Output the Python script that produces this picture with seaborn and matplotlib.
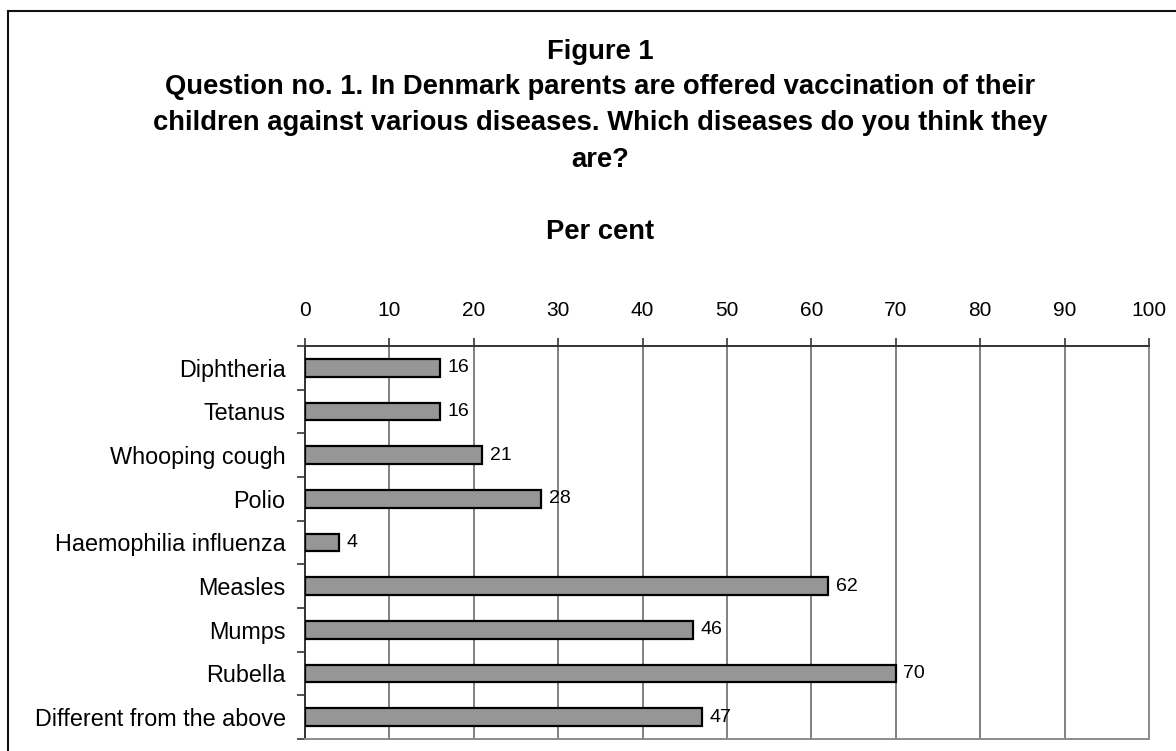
import matplotlib
matplotlib.use("Agg")
import matplotlib.pyplot as plt
from matplotlib.patches import Rectangle
from matplotlib.ticker import FixedLocator
import seaborn as sns
import pandas as pd

diseases = [
    "Diphtheria",
    "Tetanus",
    "Whooping cough",
    "Polio",
    "Haemophilia influenza",
    "Measles",
    "Mumps",
    "Rubella",
    "Different from the above",
]
per_cent = [16, 16, 21, 28, 4, 62, 46, 70, 47]
x_ticks = [0, 10, 20, 30, 40, 50, 60, 70, 80, 90, 100]
title_lines = [
    "Figure 1",
    "Question no. 1. In Denmark parents are offered vaccination of their",
    "children against various diseases. Which diseases do you think they",
    "are?",
]
axis_title = "Per cent"

sns.set_theme(style="white")
plt.rcParams["font.family"] = ["Liberation Sans", "DejaVu Sans"]

W, H = 1176, 751
fig = plt.figure(figsize=(W / 100, H / 100), dpi=100)
fig.patch.set_facecolor("white")

# outer frame around the whole chart
fig.patches.append(Rectangle((8 / W, -0.2), 1.2, 1.2 - 11 / H,
                             transform=fig.transFigure, fill=False,
                             edgecolor="#111111", linewidth=1.5, zorder=0))

ax = fig.add_axes([305 / W, 1 - 739 / H, (1149 - 305) / W, (739 - 346) / H])

df = pd.DataFrame({"disease": diseases, "value": per_cent})
sns.barplot(data=df, x="value", y="disease", orient="h", color="#969696",
            saturation=1, edgecolor="black", linewidth=1.6, width=0.41,
            ax=ax, zorder=3)

ax.bar_label(ax.containers[0], padding=5.5, fontsize=14, color="black")

ax.set_xlim(0, 100)
ax.set_ylim(len(diseases) - 0.5, -0.5)
ax.set_xticks(x_ticks)
ax.set_xticklabels([str(t) for t in x_ticks])
ax.xaxis.tick_top()
ax.tick_params(axis="x", which="major", direction="out", length=6, width=1.2,
               color="#333333", pad=13, labelsize=15, labelcolor="black",
               top=True, bottom=False)
ax.tick_params(axis="y", which="major", length=0, pad=14, labelsize=16.8,
               labelcolor="black")
ax.yaxis.set_minor_locator(FixedLocator([i - 0.5 for i in range(len(diseases) + 1)]))
ax.tick_params(axis="y", which="minor", direction="out", length=6, width=1.2,
               color="#333333", left=True)
ax.set_xlabel("")
ax.set_ylabel("")

ax.grid(axis="x", color="#808080", linewidth=1.4, zorder=0)
ax.grid(axis="y", visible=False)
ax.set_axisbelow(True)

for side in ["top", "left"]:
    ax.spines[side].set_color("#333333")
    ax.spines[side].set_linewidth(1.4)
for side in ["bottom", "right"]:
    ax.spines[side].set_color("#8c8c8c")
    ax.spines[side].set_linewidth(1.4)

cx = 600 / W
for line, y in zip(title_lines, [52, 87, 123, 160]):
    fig.text(cx, 1 - y / H, line, ha="center", va="center",
             fontsize=19.7, fontweight="bold", color="black")
fig.text(cx, 1 - 232 / H, axis_title, ha="center", va="center",
         fontsize=19.7, fontweight="bold", color="black")

fig.savefig("out.png", dpi=100)
